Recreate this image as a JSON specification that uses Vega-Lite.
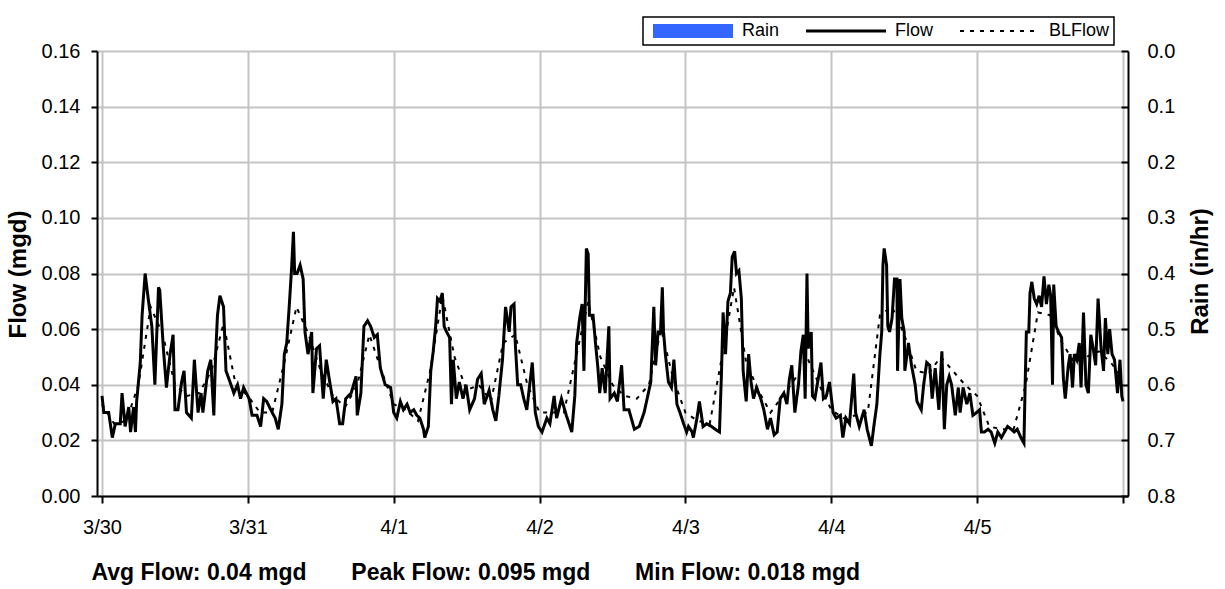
{
  "$schema": "https://vega.github.io/schema/vega-lite/v6.json",
  "width": 1031,
  "height": 445,
  "autosize": {"type": "none"},
  "padding": {"left": 97, "top": 51, "right": 97, "bottom": 93},
  "background": "white",
  "config": {
    "view": {"stroke": null},
    "font": "Liberation Sans",
    "axis": {
      "labelFont": "Liberation Sans", "labelFontSize": 20, "labelColor": "black",
      "titleFont": "Liberation Sans", "titleFontSize": 24, "titleFontWeight": "bold", "titleColor": "black",
      "domainColor": "black", "domainWidth": 2, "tickColor": "black", "tickWidth": 2,
      "gridColor": "#c4c4c4", "gridWidth": 2
    },
    "legend": {
      "orient": "none", "legendX": 546, "legendY": -34, "direction": "horizontal", "columns": 3,
      "symbolType": "stroke", "symbolSize": 6400, "clipHeight": 20, "symbolOffset": 37, "labelOffset": 40,
      "labelFont": "Liberation Sans", "labelFontSize": 18,
      "labelColor": "black", "strokeColor": "black", "strokeWidth": 1.5, "fillColor": "white", "padding": 4,
      "columnPadding": 20, "title": null
    }
  },
  "datasets": {
    "rain": [{"h":0,"rain":0},{"h":24,"rain":0},{"h":48,"rain":0},{"h":72,"rain":0},{"h":96,"rain":0},{"h":120,"rain":0},{"h":144,"rain":0}],
    "flow": [
{"h":0,"v":0.036},{"h":0.3,"v":0.030},{"h":1.1,"v":0.030},{"h":1.7,"v":0.021},{"h":2.2,"v":0.026},{"h":3.0,"v":0.026},{"h":3.3,"v":0.037},{"h":3.8,"v":0.025},{"h":4.4,"v":0.032},{"h":4.7,"v":0.023},{"h":5.2,"v":0.032},{"h":5.5,"v":0.023},{"h":5.7,"v":0.034},{"h":6.3,"v":0.048},{"h":6.6,"v":0.065},{"h":7.1,"v":0.080},{"h":7.6,"v":0.071},{"h":8.2,"v":0.061},{"h":8.7,"v":0.040},{"h":9.3,"v":0.075},{"h":9.5,"v":0.074},{"h":10.1,"v":0.053},{"h":10.6,"v":0.039},{"h":11.2,"v":0.051},{"h":11.7,"v":0.058},{"h":12.0,"v":0.031},{"h":12.5,"v":0.031},{"h":13.1,"v":0.041},{"h":13.5,"v":0.045},{"h":13.9,"v":0.030},{"h":14.7,"v":0.028},{"h":15.2,"v":0.049},{"h":15.8,"v":0.030},{"h":16.3,"v":0.037},{"h":16.6,"v":0.030},{"h":17.4,"v":0.045},{"h":17.9,"v":0.049},{"h":18.4,"v":0.029},{"h":18.7,"v":0.051},{"h":19.0,"v":0.065},{"h":19.4,"v":0.072},{"h":20.0,"v":0.068},{"h":20.4,"v":0.045},{"h":20.9,"v":0.042},{"h":21.7,"v":0.037},{"h":22.3,"v":0.040},{"h":22.8,"v":0.035},{"h":23.3,"v":0.039},{"h":24.2,"v":0.035},{"h":24.7,"v":0.029},{"h":25.5,"v":0.029},{"h":26.1,"v":0.025},{"h":26.6,"v":0.035},{"h":27.1,"v":0.034},{"h":28.0,"v":0.030},{"h":28.5,"v":0.028},{"h":29.0,"v":0.024},{"h":29.6,"v":0.033},{"h":30.0,"v":0.051},{"h":30.4,"v":0.055},{"h":30.8,"v":0.068},{"h":31.2,"v":0.082},{"h":31.5,"v":0.095},{"h":31.7,"v":0.080},{"h":32.1,"v":0.080},{"h":32.6,"v":0.083},{"h":33.1,"v":0.078},{"h":33.4,"v":0.059},{"h":33.9,"v":0.051},{"h":34.5,"v":0.059},{"h":34.7,"v":0.037},{"h":35.3,"v":0.053},{"h":35.8,"v":0.054},{"h":36.4,"v":0.035},{"h":36.9,"v":0.049},{"h":37.4,"v":0.042},{"h":38.0,"v":0.034},{"h":38.5,"v":0.035},{"h":39.1,"v":0.026},{"h":39.6,"v":0.026},{"h":40.1,"v":0.035},{"h":41.0,"v":0.037},{"h":41.8,"v":0.043},{"h":42.0,"v":0.029},{"h":42.6,"v":0.037},{"h":43.1,"v":0.061},{"h":43.7,"v":0.063},{"h":44.2,"v":0.061},{"h":44.8,"v":0.057},{"h":45.3,"v":0.058},{"h":45.8,"v":0.046},
{"h":46.6,"v":0.040},{"h":47.5,"v":0.039},{"h":48.0,"v":0.030},{"h":48.5,"v":0.028},{"h":49.1,"v":0.034},{"h":49.6,"v":0.031},{"h":50.2,"v":0.033},{"h":50.7,"v":0.030},{"h":51.3,"v":0.031},{"h":51.8,"v":0.029},{"h":52.3,"v":0.028},{"h":52.9,"v":0.024},{"h":53.1,"v":0.021},{"h":53.7,"v":0.025},{"h":54.1,"v":0.045},{"h":54.5,"v":0.052},{"h":54.9,"v":0.061},{"h":55.2,"v":0.071},{"h":55.6,"v":0.070},{"h":56.0,"v":0.073},{"h":56.3,"v":0.061},{"h":56.7,"v":0.059},{"h":57.2,"v":0.057},{"h":57.5,"v":0.033},{"h":57.8,"v":0.049},{"h":58.3,"v":0.035},{"h":58.8,"v":0.041},{"h":59.4,"v":0.035},{"h":59.9,"v":0.040},{"h":60.5,"v":0.031},{"h":61.3,"v":0.035},{"h":61.8,"v":0.042},{"h":62.4,"v":0.044},{"h":62.9,"v":0.033},{"h":63.7,"v":0.038},{"h":64.3,"v":0.031},{"h":64.8,"v":0.027},{"h":65.3,"v":0.036},{"h":65.9,"v":0.049},{"h":66.4,"v":0.068},{"h":67.0,"v":0.059},{"h":67.3,"v":0.068},{"h":67.8,"v":0.069},{"h":68.0,"v":0.055},{"h":68.4,"v":0.040},{"h":68.9,"v":0.040},{"h":69.4,"v":0.035},{"h":69.9,"v":0.031},{"h":70.8,"v":0.048},{"h":71.3,"v":0.030},{"h":71.8,"v":0.025},{"h":72.4,"v":0.023},{"h":73.2,"v":0.028},{"h":73.7,"v":0.026},{"h":74.4,"v":0.036},{"h":74.8,"v":0.028},{"h":75.6,"v":0.035},{"h":76.4,"v":0.029},{"h":77.3,"v":0.023},{"h":77.8,"v":0.036},{"h":78.1,"v":0.055},{"h":78.6,"v":0.064},{"h":79.0,"v":0.069},{"h":79.3,"v":0.045},{"h":79.7,"v":0.089},{"h":80.0,"v":0.087},{"h":80.2,"v":0.065},{"h":80.8,"v":0.065},{"h":81.2,"v":0.055},{"h":81.6,"v":0.046},{"h":81.9,"v":0.037},{"h":82.3,"v":0.046},{"h":82.8,"v":0.037},{"h":83.4,"v":0.061},{"h":83.6,"v":0.035},{"h":84.3,"v":0.037},{"h":84.8,"v":0.034},{"h":85.5,"v":0.047},{"h":85.9,"v":0.031},{"h":86.7,"v":0.031},{"h":87.6,"v":0.024},{"h":88.4,"v":0.025},{"h":89.2,"v":0.030},{"h":89.7,"v":0.035},{"h":90.3,"v":0.041},{"h":90.8,"v":0.068},{"h":91.1,"v":0.047},{"h":91.5,"v":0.059},{"h":91.9,"v":0.059},{"h":92.2,"v":0.075},{"h":92.4,"v":0.059},{"h":92.7,"v":0.051},{"h":93.2,"v":0.041},{"h":93.7,"v":0.039},{"h":94.1,"v":0.049},{"h":94.6,"v":0.033},{"h":95.1,"v":0.030},{"h":95.7,"v":0.026},{"h":96.2,"v":0.023},
{"h":96.5,"v":0.025},{"h":97.1,"v":0.023},{"h":97.3,"v":0.021},{"h":97.9,"v":0.028},{"h":98.3,"v":0.034},{"h":98.9,"v":0.025},{"h":99.5,"v":0.026},{"h":100.3,"v":0.025},{"h":100.9,"v":0.024},{"h":101.6,"v":0.023},{"h":101.9,"v":0.042},{"h":102.2,"v":0.066},{"h":102.6,"v":0.051},{"h":103.0,"v":0.070},{"h":103.4,"v":0.073},{"h":103.7,"v":0.086},{"h":104.1,"v":0.088},{"h":104.4,"v":0.080},{"h":104.8,"v":0.081},{"h":105.2,"v":0.071},{"h":105.5,"v":0.045},{"h":106.0,"v":0.034},{"h":106.4,"v":0.051},{"h":106.8,"v":0.041},{"h":107.2,"v":0.035},{"h":107.7,"v":0.039},{"h":108.4,"v":0.035},{"h":108.9,"v":0.031},{"h":109.5,"v":0.024},{"h":110.0,"v":0.028},{"h":110.6,"v":0.022},{"h":111.1,"v":0.023},{"h":111.6,"v":0.035},{"h":112.2,"v":0.037},{"h":112.7,"v":0.033},{"h":113.1,"v":0.042},{"h":113.5,"v":0.047},{"h":114.0,"v":0.030},{"h":114.6,"v":0.040},{"h":115.0,"v":0.052},{"h":115.4,"v":0.058},{"h":115.7,"v":0.035},{"h":116.0,"v":0.080},{"h":116.2,"v":0.053},{"h":116.7,"v":0.059},{"h":116.9,"v":0.036},{"h":117.3,"v":0.035},{"h":118.3,"v":0.048},{"h":118.7,"v":0.035},{"h":119.2,"v":0.036},{"h":119.7,"v":0.041},{"h":120.3,"v":0.030},{"h":120.8,"v":0.028},{"h":121.5,"v":0.029},{"h":121.9,"v":0.021},{"h":122.4,"v":0.028},{"h":123.0,"v":0.026},{"h":123.7,"v":0.044},{"h":124.0,"v":0.030},{"h":124.6,"v":0.025},{"h":125.4,"v":0.031},{"h":125.9,"v":0.024},{"h":126.6,"v":0.018},{"h":127.0,"v":0.025},{"h":127.5,"v":0.033},{"h":128.0,"v":0.051},{"h":128.3,"v":0.059},{"h":128.5,"v":0.083},{"h":128.7,"v":0.089},{"h":129.1,"v":0.083},{"h":129.3,"v":0.061},{"h":129.6,"v":0.059},{"h":130.0,"v":0.064},{"h":130.4,"v":0.078},{"h":130.8,"v":0.078},{"h":130.9,"v":0.045},{"h":131.3,"v":0.078},{"h":131.6,"v":0.064},{"h":132.0,"v":0.059},{"h":132.1,"v":0.045},{"h":132.7,"v":0.055},{"h":133.2,"v":0.047},{"h":133.8,"v":0.040},{"h":134.1,"v":0.034},{"h":134.8,"v":0.031},{"h":135.2,"v":0.040},{"h":135.7,"v":0.048},{"h":136.2,"v":0.047},{"h":136.6,"v":0.035},{"h":137.1,"v":0.046},{"h":137.7,"v":0.031},{"h":138.2,"v":0.052},{"h":138.6,"v":0.024},{"h":139.0,"v":0.040},{"h":139.4,"v":0.043},{"h":139.8,"v":0.040},{"h":140.4,"v":0.029},
{"h":140.9,"v":0.039},{"h":141.2,"v":0.030},{"h":141.7,"v":0.039},{"h":142.3,"v":0.033},{"h":142.8,"v":0.037},{"h":143.3,"v":0.029},{"h":143.9,"v":0.030},{"h":144.4,"v":0.031},{"h":144.7,"v":0.023},{"h":145.2,"v":0.023},{"h":145.8,"v":0.024},{"h":146.3,"v":0.023},{"h":146.9,"v":0.019},{"h":147.4,"v":0.023},{"h":148.0,"v":0.021},{"h":148.5,"v":0.023},{"h":149.0,"v":0.025},{"h":149.6,"v":0.024},{"h":150.1,"v":0.023},{"h":150.6,"v":0.024},{"h":151.2,"v":0.021},{"h":151.7,"v":0.019},{"h":151.9,"v":0.040},{"h":152.1,"v":0.059},{"h":152.5,"v":0.059},{"h":152.7,"v":0.073},{"h":153.0,"v":0.077},{"h":153.4,"v":0.071},{"h":153.8,"v":0.069},{"h":154.2,"v":0.072},{"h":154.6,"v":0.068},{"h":155.0,"v":0.079},{"h":155.4,"v":0.069},{"h":155.8,"v":0.076},{"h":156.1,"v":0.072},{"h":156.4,"v":0.040},{"h":156.6,"v":0.076},{"h":157.0,"v":0.061},{"h":157.4,"v":0.059},{"h":157.9,"v":0.057},{"h":158.2,"v":0.042},{"h":158.5,"v":0.035},{"h":159.0,"v":0.047},{"h":159.3,"v":0.051},{"h":159.7,"v":0.039},{"h":160.0,"v":0.051},{"h":160.4,"v":0.049},{"h":160.8,"v":0.055},{"h":161.1,"v":0.039},{"h":161.5,"v":0.066},{"h":161.9,"v":0.040},{"h":162.3,"v":0.037},{"h":162.7,"v":0.058},{"h":163.1,"v":0.053},{"h":163.5,"v":0.047},{"h":163.9,"v":0.071},{"h":164.4,"v":0.053},{"h":164.8,"v":0.045},{"h":165.1,"v":0.064},{"h":165.5,"v":0.051},{"h":165.8,"v":0.060},{"h":166.2,"v":0.051},{"h":166.6,"v":0.049},{"h":167.1,"v":0.037},{"h":167.5,"v":0.049},{"h":167.8,"v":0.036},{"h":168.0,"v":0.034}
    ],
    "bl": [
{"h":0,"v":0.033},{"h":2,"v":0.026},{"h":4,"v":0.027},{"h":6,"v":0.040},{"h":8,"v":0.068},{"h":10,"v":0.058},{"h":12,"v":0.040},{"h":14,"v":0.036},{"h":16,"v":0.037},{"h":18,"v":0.045},{"h":20,"v":0.062},{"h":22,"v":0.040},
{"h":24,"v":0.036},{"h":26,"v":0.030},{"h":28,"v":0.030},{"h":30,"v":0.048},{"h":32,"v":0.068},{"h":34,"v":0.058},{"h":36,"v":0.045},{"h":38,"v":0.036},{"h":40,"v":0.032},{"h":42,"v":0.040},{"h":44,"v":0.058},{"h":46,"v":0.045},
{"h":48,"v":0.033},{"h":50,"v":0.031},{"h":52,"v":0.027},{"h":54,"v":0.045},{"h":56,"v":0.072},{"h":58,"v":0.050},{"h":60,"v":0.038},{"h":62,"v":0.040},{"h":64,"v":0.034},{"h":66,"v":0.055},{"h":68,"v":0.058},{"h":70,"v":0.040},
{"h":72,"v":0.030},{"h":74,"v":0.030},{"h":76,"v":0.030},{"h":78,"v":0.050},{"h":80,"v":0.070},{"h":82,"v":0.050},{"h":84,"v":0.040},{"h":86,"v":0.036},{"h":88,"v":0.035},{"h":90,"v":0.040},{"h":92,"v":0.060},{"h":94,"v":0.042},
{"h":96,"v":0.030},{"h":98,"v":0.027},{"h":100,"v":0.026},{"h":102,"v":0.050},{"h":104,"v":0.075},{"h":106,"v":0.048},{"h":108,"v":0.038},{"h":110,"v":0.030},{"h":112,"v":0.036},{"h":114,"v":0.042},{"h":116,"v":0.050},{"h":118,"v":0.040},
{"h":120,"v":0.031},{"h":122,"v":0.028},{"h":124,"v":0.029},{"h":126,"v":0.030},{"h":128,"v":0.065},{"h":130,"v":0.068},{"h":132,"v":0.058},{"h":134,"v":0.045},{"h":136,"v":0.044},{"h":138,"v":0.050},{"h":140,"v":0.045},{"h":142,"v":0.040},
{"h":144,"v":0.036},{"h":146,"v":0.025},{"h":148,"v":0.024},{"h":150,"v":0.024},{"h":152,"v":0.040},{"h":154,"v":0.066},{"h":156,"v":0.065},{"h":158,"v":0.055},{"h":160,"v":0.048},{"h":162,"v":0.050},{"h":164,"v":0.052},{"h":166,"v":0.048},{"h":168,"v":0.042}
    ]
  },
  "layer": [
    {
      "data": {"name": "rain"},
      "mark": {"type": "bar", "color": "#3366ff"},
      "encoding": {
        "x": {
          "field": "h", "type": "quantitative",
          "scale": {"domain": [0, 168], "nice": false, "zero": false},
          "axis": {
            "values": [0, 24, 48, 72, 96, 120, 144, 168],
            "labelExpr": "datum.value < 168 ? ['3/30','3/31','4/1','4/2','4/3','4/4','4/5'][round(datum.value/24)] : ''",
            "labelFlush": false, "labelOverlap": false, "tickSize": 7, "labelPadding": 14,
            "grid": true,
            "title": "Avg Flow: 0.04 mgd\u00a0\u00a0\u00a0\u00a0\u00a0\u00a0 Peak Flow: 0.095 mgd\u00a0\u00a0\u00a0\u00a0\u00a0\u00a0 Min Flow: 0.018 mgd",
            "titleFontSize": 23, "titleAnchor": "start", "titleAlign": "left", "titleX": -6, "titleY": 83, "titleBaseline": "alphabetic"
          }
        },
        "y": {
          "field": "rain", "type": "quantitative",
          "scale": {"domain": [0, 0.8], "reverse": true, "nice": false},
          "axis": {
            "orient": "right", "title": "Rain (in/hr)", "values": [0, 0.1, 0.2, 0.3, 0.4, 0.5, 0.6, 0.7, 0.8],
            "format": ".1f", "grid": false, "tickSize": -7, "labelPadding": 26,
            "titleAngle": -90, "titleX": 72, "titleY": 220, "titleBaseline": "middle"
          }
        }
      }
    },
    {
      "layer": [
        {
          "data": {"name": "bl"},
          "mark": {"type": "line", "strokeWidth": 2},
          "encoding": {
            "x": {"field": "h", "type": "quantitative"},
            "y": {
              "field": "v", "type": "quantitative",
              "scale": {"domain": [0, 0.16], "nice": false},
              "axis": {
                "orient": "left", "title": "Flow (mgd)", "values": [0, 0.02, 0.04, 0.06, 0.08, 0.1, 0.12, 0.14, 0.16],
                "format": ".2f", "grid": true, "tickSize": 6, "labelPadding": 11,
                "titleX": -79, "titleY": 223, "titleBaseline": "middle"
              }
            },
            "color": {
              "datum": "BLFlow", "type": "nominal",
              "scale": {"domain": ["Rain", "Flow", "BLFlow"], "range": ["#3366ff", "#000000", "#000000"]},
              "legend": {"encode": {"symbols": {"update": {"strokeWidth": {"signal": "datum.value === 'Rain' ? 14 : datum.value === 'Flow' ? 3 : 2"}}}}}
            },
            "strokeDash": {"datum": "BLFlow", "type": "nominal", "scale": {"domain": ["Rain", "Flow", "BLFlow"], "range": [[1, 0], [1, 0], [4, 6]]}}
          }
        },
        {
          "data": {"name": "flow"},
          "mark": {"type": "line", "strokeWidth": 3},
          "encoding": {
            "x": {"field": "h", "type": "quantitative"},
            "y": {"field": "v", "type": "quantitative"},
            "color": {"datum": "Flow", "type": "nominal"},
            "strokeDash": {"datum": "Flow", "type": "nominal"}
          }
        }
      ]
    }
  ],
  "resolve": {"scale": {"y": "independent"}}
}
